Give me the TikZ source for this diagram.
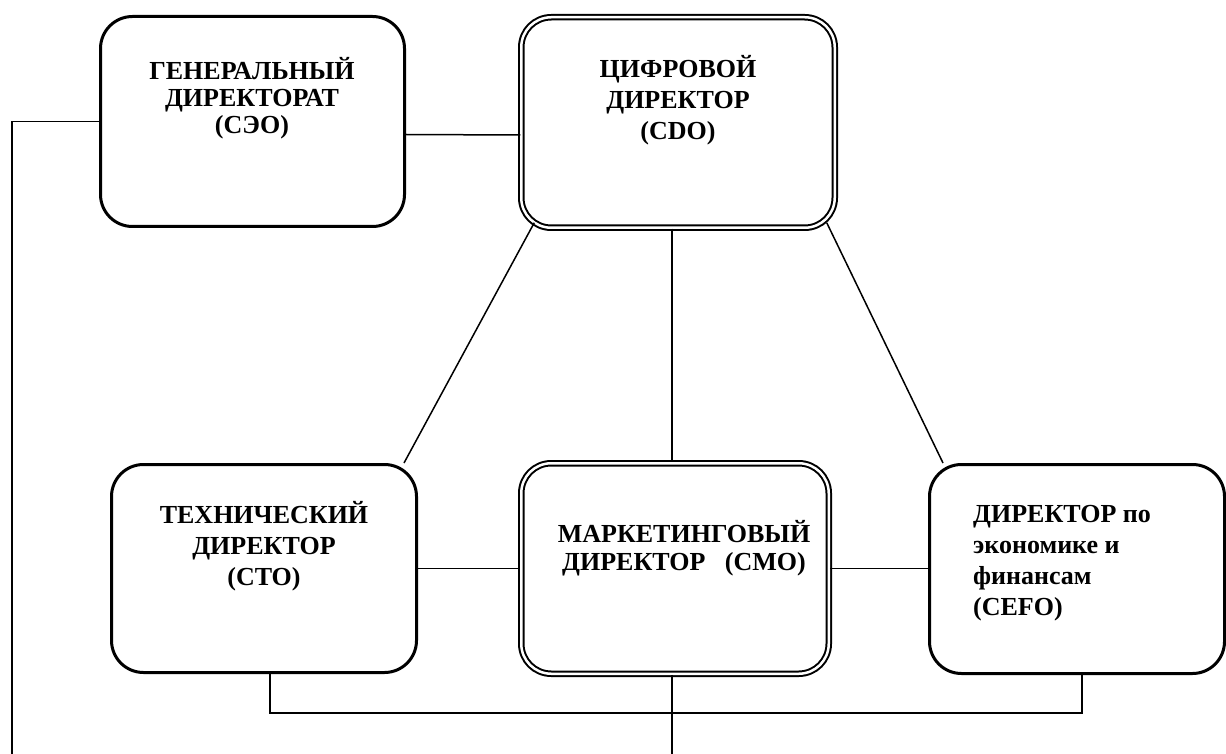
\documentclass[tikz,border=0pt]{standalone}
\usepackage{fontspec}
\setmainfont{Liberation Serif}
\begin{document}
\begin{tikzpicture}[x=1pt,y=-1pt,
  box/.style={draw, line width=3pt, rounded corners=32pt, inner sep=0pt},
  dbox/.style={draw, line width=2pt, double=white, double distance=2.5pt, rounded corners=30pt, inner sep=0pt},
  conn/.style={line width=1.5pt},
  lbl/.style={inner sep=0pt, align=center},
  fsa/.style={font=\fontsize{26}{27}\selectfont\bfseries},
  fsb/.style={font=\fontsize{26}{31}\selectfont\bfseries},
  fsc/.style={font=\fontsize{26}{28}\selectfont\bfseries}]
\useasboundingbox (0,0) rectangle (1226,754);

% boxes
\node[box, minimum width=304pt, minimum height=210pt] (ceo) at (252.5,121.5) {};
\node[dbox, minimum width=313.5pt, minimum height=210.5pt] (cdo) at (678,122.5) {};
\node[box, minimum width=305pt, minimum height=208pt] (cto) at (264,568.5) {};
\node[dbox, minimum width=307.5pt, minimum height=210.5pt] (cmo) at (675,568.5) {};
\node[box, minimum width=295pt, minimum height=209pt] (cefo) at (1077,569) {};

% texts (base anchor = baseline of the last line)
\node[lbl, fsa, anchor=base] (ceot) at (252,134) {ГЕНЕРАЛЬНЫЙ\\ДИРЕКТОРАТ\\(СЭО)};
\node[lbl, fsb, anchor=base] (cdot) at (678,140) {ЦИФРОВОЙ\\ДИРЕКТОР\\(CDO)};
\node[lbl, fsb, anchor=base] (ctot) at (264,585) {ТЕХНИЧЕСКИЙ\\ДИРЕКТОР\\(CTO)};
\node[lbl, fsc, anchor=base] (cmot) at (684,570) {МАРКЕТИНГОВЫЙ\\ДИРЕКТОР\ \ \ (CMO)};
\node[lbl, fsb, anchor=base west, align=left] (cefot) at (973,615) {ДИРЕКТОР по\\экономике и\\финансам\\(CEFO)};

% connector end points
\coordinate (ceoEnd) at (12,754);
\coordinate (cmoEnd) at (672,754);
\coordinate (vx) at (672,0);

% connectors
\draw[conn] (ceo.west) -| (ceoEnd);
\draw[conn] ([yshift=-13pt]ceo.east) -- ([yshift=-12.5pt]cdo.west);
\draw[conn] (cdo.south -| vx) -- (cmo.north -| vx);
\draw[conn] ([xshift=14pt,yshift=6pt]cdo.south west) -- ([xshift=-14pt]cto.north east);
\draw[conn] ([xshift=-9pt,yshift=6pt]cdo.south east) -- ([xshift=15pt]cefo.north west);
\draw[conn] (cto.east) -- (cto.east -| cmo.west);
\draw[conn] (cmo.east) -- (cmo.east -| cefo.west);
\draw[conn] ([xshift=6pt]cto.south) -- ++(0,39) -| ([xshift=5pt]cefo.south);
\draw[conn] (cmo.south -| cmoEnd) -- (cmoEnd);
\end{tikzpicture}
\end{document}
